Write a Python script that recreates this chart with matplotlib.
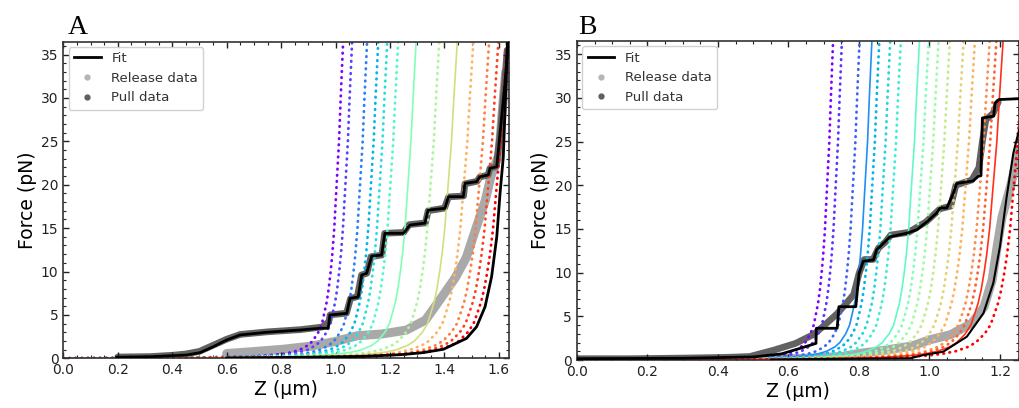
import numpy as np
import matplotlib
matplotlib.use("Agg")
import matplotlib.pyplot as plt
from matplotlib.lines import Line2D
from matplotlib.ticker import MultipleLocator

# shared shape of the model curves: force (pN) vs extension relative to the
# extension at 36 pN (read off the purple curve of panel A)
shape_f = [0, 0.05, 0.1, 0.2, 0.3, 0.5, 0.7, 1, 1.5, 2, 3, 4, 5, 6.5, 8, 10,
           12, 15, 18, 25, 30, 36, 40]
shape_r = [0, 0.311, 0.491, 0.645, 0.715, 0.783, 0.817, 0.847, 0.875, 0.892,
           0.912, 0.925, 0.932, 0.942, 0.949, 0.956, 0.962, 0.969, 0.974,
           0.986, 0.992, 1.0, 1.005]

# ---- panel A ----
a_x36 = [1.027, 1.060, 1.115, 1.156, 1.189, 1.229, 1.295, 1.380, 1.446,
         1.505, 1.563, 1.597, 1.629]
a_solid = [6, 8]

a_fit_x = [0.196, 0.318, 0.453, 0.502, 0.551, 0.600, 0.649, 0.747, 0.869,
           0.943, 0.973, 0.979, 1.041, 1.053, 1.083, 1.096, 1.114, 1.133,
           1.169, 1.181, 1.249, 1.273, 1.328, 1.340, 1.402, 1.414, 1.469,
           1.475, 1.518, 1.530, 1.561, 1.567, 1.592, 1.604, 1.622, 1.634]
a_fit_f = [0.12, 0.18, 0.38, 0.65, 1.34, 2.11, 2.69, 3.00, 3.26, 3.46, 3.46,
           4.99, 5.18, 6.91, 7.06, 9.60, 9.79, 11.78, 11.89, 14.40, 14.40,
           15.35, 15.58, 17.08, 17.28, 18.62, 18.62, 20.16, 20.35, 20.92,
           21.12, 21.89, 22.07, 25.92, 31.68, 36.29]

a_rfit_x = [0.60, 0.90, 1.10, 1.24, 1.32, 1.396, 1.481, 1.518, 1.549, 1.573,
            1.592, 1.604, 1.616, 1.631]
a_rfit_f = [0.05, 0.12, 0.22, 0.42, 0.65, 1.04, 2.30, 3.64, 5.94, 9.40, 14.0,
            19.0, 23.2, 36.3]

a_pull_x = [0.20, 0.32, 0.40, 0.45, 0.50, 0.55, 0.60, 0.65, 0.75, 0.87,
            0.95, 0.975, 0.98, 1.04, 1.055, 1.08, 1.095, 1.115, 1.13, 1.17,
            1.18, 1.25, 1.27, 1.33, 1.34, 1.40, 1.415, 1.47, 1.475, 1.52,
            1.53, 1.56, 1.567, 1.59, 1.605, 1.62, 1.63]
a_pull_f = [0.15, 0.20, 0.35, 0.50, 0.80, 1.50, 2.20, 2.75, 3.05, 3.30,
            3.60, 4.20, 5.00, 5.20, 6.90, 7.10, 9.60, 9.80, 11.70, 11.90,
            14.40, 14.50, 15.40, 15.60, 17.00, 17.30, 18.60, 18.70, 20.10,
            20.40, 20.90, 21.10, 21.90, 22.10, 26.0, 31.5, 35.5]

a_rel_x = [0.60, 0.69, 0.81, 0.91, 1.00, 1.08, 1.17, 1.26, 1.33, 1.38, 1.44,
           1.48, 1.52, 1.55, 1.57, 1.60, 1.615, 1.625]
a_rel_f = [0.55, 0.75, 1.05, 1.40, 1.95, 2.60, 2.80, 3.25, 4.40, 6.60, 9.30,
           11.60, 15.40, 18.20, 20.90, 23.50, 29.5, 33.0]

# ---- panel B ----
b_x36 = [0.726, 0.751, 0.801, 0.836, 0.857, 0.888, 0.918, 0.971, 0.997,
         1.025, 1.057, 1.096, 1.128, 1.170, 1.189, 1.208, 1.268]
b_solid = [3, 7, 15]

b_fit_x = [0.00, 0.30, 0.50, 0.58, 0.63, 0.678, 0.679, 0.738, 0.743, 0.791,
           0.800, 0.812, 0.841, 0.850, 0.883, 0.888, 0.935, 0.964, 0.992,
           1.020, 1.030, 1.049, 1.068, 1.077, 1.124, 1.138, 1.146, 1.150,
           1.182, 1.186, 1.197, 1.254]
b_fit_f = [0.15, 0.20, 0.35, 0.70, 1.30, 1.90, 3.63, 3.63, 6.10, 6.10, 9.90,
           11.30, 11.45, 12.60, 13.90, 14.10, 14.50, 14.90, 15.80, 16.80,
           17.40, 17.40, 19.10, 20.20, 20.50, 21.00, 21.10, 27.70, 27.90,
           29.40, 29.80, 29.90]

b_rfit_x = [0.55, 0.80, 0.946, 0.983, 1.039, 1.106, 1.153, 1.181, 1.200,
            1.219, 1.238, 1.254]
b_rfit_f = [0.05, 0.15, 0.20, 0.57, 0.95, 2.67, 5.35, 8.80, 13.0, 18.7, 23.7,
            26.3]

b_pull_x = [0.00, 0.15, 0.30, 0.42, 0.49, 0.56, 0.62, 0.67, 0.70, 0.738,
            0.76, 0.785, 0.80, 0.815, 0.84, 0.855, 0.875, 0.89, 0.94, 0.99,
            1.03, 1.06, 1.075, 1.12, 1.14, 1.15, 1.16, 1.18, 1.195]
b_pull_f = [0.15, 0.15, 0.22, 0.30, 0.40, 1.15, 1.90, 2.90, 3.90, 5.30,
            6.30, 7.50, 9.90, 11.50, 11.50, 12.80, 13.50, 14.30, 14.60,
            15.80, 17.30, 17.60, 20.00, 20.60, 22.00, 25.00, 27.50, 28.20,
            29.50]

b_rel_x = [0.55, 0.65, 0.75, 0.81, 0.87, 0.95, 1.00, 1.06, 1.12, 1.155,
           1.178, 1.192, 1.206, 1.23, 1.245, 1.256]
b_rel_f = [0.10, 0.20, 0.40, 0.80, 1.10, 1.60, 2.30, 2.90, 4.20, 6.10, 9.20,
           13.0, 16.4, 19.9, 22.5, 24.0]


def panel(ax, x36, solid, fit_x, fit_f, rfit_x, rfit_f, pull_x, pull_f,
          rel_x, rel_f, xmax, rfit_lw):
    r = np.array(shape_r)
    cols = plt.cm.rainbow(np.linspace(0, 1, len(x36)))
    # data bands
    ax.plot(rel_x, rel_f, color="#a9a9a9", lw=6.5, solid_capstyle="round",
            solid_joinstyle="round", zorder=1)
    ax.plot(pull_x, pull_f, color="#626262", lw=4.8, solid_capstyle="round",
            solid_joinstyle="round", zorder=1.5)
    for i, xt in enumerate(x36):
        if i in solid:
            ax.plot(xt * r, shape_f, color=cols[i], lw=1.2, zorder=2)
        else:
            ax.plot(xt * r, shape_f, color=cols[i], lw=2.0,
                    linestyle=(0, (0.2, 2.0)), dash_capstyle="round",
                    zorder=2)
    ax.plot(rfit_x, rfit_f, color="black", lw=rfit_lw, zorder=3)
    ax.plot(fit_x, fit_f, color="black", lw=2.0, zorder=3)

    ax.set_xlim(0, xmax)
    ax.set_ylim(0, 36.5)
    ax.xaxis.set_major_locator(MultipleLocator(0.2))
    ax.xaxis.set_minor_locator(MultipleLocator(0.05))
    ax.yaxis.set_major_locator(MultipleLocator(5))
    ax.yaxis.set_minor_locator(MultipleLocator(1))
    ax.tick_params(which="both", direction="in", top=True, right=True,
                   labelsize=10, colors="#222222")
    ax.tick_params(which="major", length=4.5, width=1)
    ax.tick_params(which="minor", length=2.2, width=0.8)
    for s in ax.spines.values():
        s.set_linewidth(1.2)
        s.set_color("#333333")
    ax.set_xlabel("Z (µm)", fontsize=13.5, labelpad=2)
    ax.set_ylabel("Force (pN)", fontsize=13.5, labelpad=3)

    handles = [
        Line2D([], [], color="black", lw=2),
        Line2D([], [], color="#b5b5b5", marker="o", ms=3.5, ls="none"),
        Line2D([], [], color="#5f5f5f", marker="o", ms=3.5, ls="none"),
    ]
    leg = ax.legend(handles, ["Fit", "Release data", "Pull data"],
                    loc="upper left", fontsize=9.6, framealpha=0.9,
                    borderaxespad=0.4, handlelength=2.0)
    leg.get_frame().set_edgecolor("#cccccc")
    for t in leg.get_texts():
        t.set_color("#333333")


fig = plt.figure(figsize=(10.19, 4.08), dpi=100)
ax1 = fig.add_axes([63.3 / 1019, 1 - 358.3 / 408, 446 / 1019, 316.8 / 408])
ax2 = fig.add_axes([577 / 1019, 1 - 360 / 408, 441.5 / 1019, 319 / 408])

panel(ax1, a_x36, a_solid, a_fit_x, a_fit_f, a_rfit_x, a_rfit_f,
      a_pull_x, a_pull_f, a_rel_x, a_rel_f, 1.638, 2.0)
panel(ax2, b_x36, b_solid, b_fit_x, b_fit_f, b_rfit_x, b_rfit_f,
      b_pull_x, b_pull_f, b_rel_x, b_rel_f, 1.2525, 1.5)

fig.text(68 / 1019, 1 - 34 / 408, "A", family="Liberation Serif", fontsize=20)
fig.text(578 / 1019, 1 - 34 / 408, "B", family="Liberation Serif", fontsize=20)

fig.savefig("out.png", dpi=100)
